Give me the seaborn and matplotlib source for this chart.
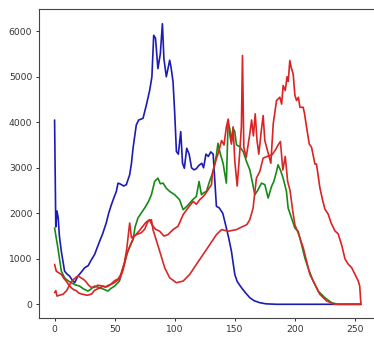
import matplotlib
matplotlib.use("Agg")
import matplotlib.pyplot as plt
import seaborn as sns

## Colour histogram (b, g, r + second r)

# Blue channel
blue_x = [0, 1, 2, 3, 4, 5.6, 8.3, 10.5, 12.5, 14.5, 16.7, 19.4, 22, 25, 28, 30, 33.3, 37.5, 40, 43,
          45, 47.3, 49.5, 51.4, 52.8, 55, 57.5, 59.7, 62.5, 64, 65.3, 68, 70, 73.6, 76.4, 79.2, 81,
          82.5, 84, 86, 88, 89.75, 91, 93, 95.8, 97, 98.6, 100, 101.4, 103, 105, 106.5, 108, 110,
          112, 114, 116, 118, 120, 122.5, 124, 126, 128, 130, 132, 134.7, 137, 140, 143, 145,
          147.2, 150, 152, 155.6, 159, 162.5, 166, 170.8, 176, 185, 200, 230, 255]
blue_y = [4050, 1700, 2050, 1900, 1500, 1167, 729, 660, 620, 540, 474, 620, 700, 802, 850, 950, 1094,
          1386, 1550, 1787, 2000, 2190, 2350, 2481, 2663, 2640, 2600, 2628, 2847, 3100, 3430, 3941,
          4050, 4087, 4380, 4708, 5000, 5912, 5850, 5180, 5500, 6166, 5400, 5000, 5364, 5200, 4890,
          4200, 3357, 3300, 3795, 3100, 2990, 3430, 3300, 3000, 2955, 2980, 3050, 3100, 3000, 3300,
          3250, 3350, 3300, 2153, 2120, 2000, 1677, 1450, 1167, 657, 500, 364, 250, 145, 80, 35,
          10, 0, 0, 0, 0]

# Green channel
green_x = [0, 2.75, 5.6, 8.3, 11, 13.9, 17, 20.8, 24, 27.75, 30, 33.3, 37.5, 41, 44.4, 47, 50, 54,
           57, 61, 65.3, 67, 69.4, 72, 75, 78, 80.6, 83.3, 86, 88, 90.3, 93, 95.8, 100, 104, 107,
           110, 112.5, 115, 118, 120.25, 122.25, 124, 126.4, 129, 132, 134.75, 136, 138, 140.25,
           143, 144.4, 145.8, 147.25, 148.6, 150, 151.4, 154, 157, 159.75, 162.5, 164.5, 166.7,
           169, 172.25, 175, 177.75, 180.6, 182.5, 184.75, 186, 188, 190.25, 193, 194.4, 197.25,
           200, 202.75, 205.6, 208.3, 211, 215.25, 219.4, 225, 230.6, 236, 255]
green_y = [1677, 1240, 729, 583, 520, 474, 430, 400, 340, 291, 330, 400, 365, 330, 291, 350, 400,
           510, 800, 1167, 1423, 1700, 1896, 2000, 2116, 2250, 2408, 2700, 2773, 2650, 2663, 2550,
           2481, 2408, 2299, 2080, 2150, 2225, 2300, 2371, 2700, 2408, 2450, 2481, 2700, 2919,
           3284, 3540, 3300, 3100, 2663, 3976, 3867, 3576, 3867, 3795, 3503, 3466, 3357, 3138,
           2956, 2700, 2408, 2500, 2663, 2630, 2335, 2590, 2700, 2919, 3066, 2950, 2773, 2481,
           2116, 1896, 1677, 1605, 1313, 1020, 801, 510, 291, 145, 35, 0, 0]

# Red channel (wide peak near 195)
red1_x = [0, 1.4, 3, 5.6, 8, 9.7, 12, 13.9, 16, 18, 20, 22, 25, 27, 29, 31, 33, 35, 38, 40, 42, 45,
          48, 50, 52, 54, 57, 60, 63, 66, 70, 73, 76, 79, 81, 84, 87.5, 91, 94.4, 98.6, 102.75,
          107, 111, 115.25, 118, 120.8, 123, 125, 127.75, 130.6, 131.5, 133.3, 134.75, 136, 139,
          141, 143, 144.5, 146, 147.2, 148.6, 150, 152, 154, 155.5, 156.4, 157.5, 159.5, 162.5,
          164, 165.5, 167, 168.5, 170, 172, 173.6, 175, 178, 180, 182, 184.75, 187.5, 189, 190.25,
          192, 193.5, 194.5, 195.8, 197, 198.6, 200, 201.4, 203, 204.2, 206.9, 208, 209.75, 212,
          213.9, 216.7, 218, 220.8, 223, 225, 227.75, 230, 233.3, 236, 239, 241.7, 244.4, 247.2,
          250, 252.75, 254, 255]
red1_y = [876, 729, 700, 657, 560, 510, 420, 364, 320, 300, 250, 230, 210, 200, 210, 230, 300, 330,
          360, 400, 380, 420, 450, 480, 520, 550, 750, 1100, 1300, 1480, 1600, 1700, 1800, 1860,
          1750, 1650, 1605, 1500, 1532, 1642, 1714, 1970, 2116, 2262, 2200, 2299, 2350, 2408, 2518,
          2628, 2900, 3066, 3210, 3300, 3600, 3500, 3900, 4070, 3700, 3520, 3900, 3150, 2600, 3300,
          3900, 5468, 3450, 3230, 3744, 4050, 3700, 4185, 3600, 3300, 3800, 4148, 3600, 3300, 3100,
          3965, 4478, 4550, 4400, 4808, 4700, 5000, 4900, 5358, 5200, 5065, 4600, 4478, 4550, 4330,
          4330, 4200, 3890, 3524, 3450, 3084, 3084, 2568, 2300, 2093, 1982, 1800, 1615, 1550, 1300,
          1000, 881, 808, 661, 513, 400, 0]

# Second red curve
red2_x = [0, 1, 2, 4, 7, 10, 12, 14, 16, 18, 20, 22, 24, 26, 28, 30, 33, 36, 40, 43, 46, 50, 53, 55,
          58, 60, 62.5, 64, 66, 68, 72, 75, 77.75, 80.6, 81.9, 84.75, 87.5, 91.7, 95.8, 101.4, 107,
          112.5, 118, 123.6, 129.2, 134.75, 139, 144.4, 151.4, 157, 160, 162.5, 165.25, 168, 170.8,
          173.6, 177, 181, 184, 186, 188, 190, 192, 194, 196, 198, 200, 203, 207, 209.75, 212.5,
          216.7, 220.8, 226.4, 233, 255]
red2_y = [255, 300, 180, 200, 220, 300, 400, 500, 550, 600, 620, 580, 550, 500, 430, 380, 370, 420,
          400, 380, 420, 520, 560, 650, 900, 1200, 1787, 1460, 1500, 1532, 1568, 1650, 1824, 1860,
          1642, 1400, 1167, 801, 583, 474, 510, 657, 876, 1094, 1313, 1532, 1642, 1605, 1642, 1714,
          1750, 1860, 2116, 2773, 2919, 3212, 3250, 3285, 3400, 3500, 3577, 2950, 3250, 2700, 2500,
          2100, 1750, 1550, 1240, 948, 657, 438, 219, 73, 0, 0]

sns.set_style("ticks")

fig = plt.figure(figsize=(3.74, 3.38), dpi=100)
ax = fig.add_axes([0.105, 0.058, 0.901, 0.914])

lw = 1.2
sns.lineplot(x=blue_x, y=blue_y, color="#1c1cb4", lw=lw, ax=ax)
sns.lineplot(x=green_x, y=green_y, color="#168a16", lw=lw, ax=ax)
sns.lineplot(x=red2_x, y=red2_y, color="#d42a2a", lw=lw, ax=ax)
sns.lineplot(x=red1_x, y=red1_y, color="#dc2222", lw=lw, ax=ax)

ax.set_xlim(-12.75, 267.75)
ax.set_ylim(-310, 6480)
ax.set_xticks([0, 50, 100, 150, 200, 250])
ax.set_yticks([0, 1000, 2000, 3000, 4000, 5000, 6000])
ax.tick_params(labelsize=6.6, length=2.5, width=0.7, pad=2.5, colors="#333333")
for s in ax.spines.values():
    s.set_linewidth(0.8)
    s.set_color("#444444")

fig.savefig("out.png", dpi=100)
